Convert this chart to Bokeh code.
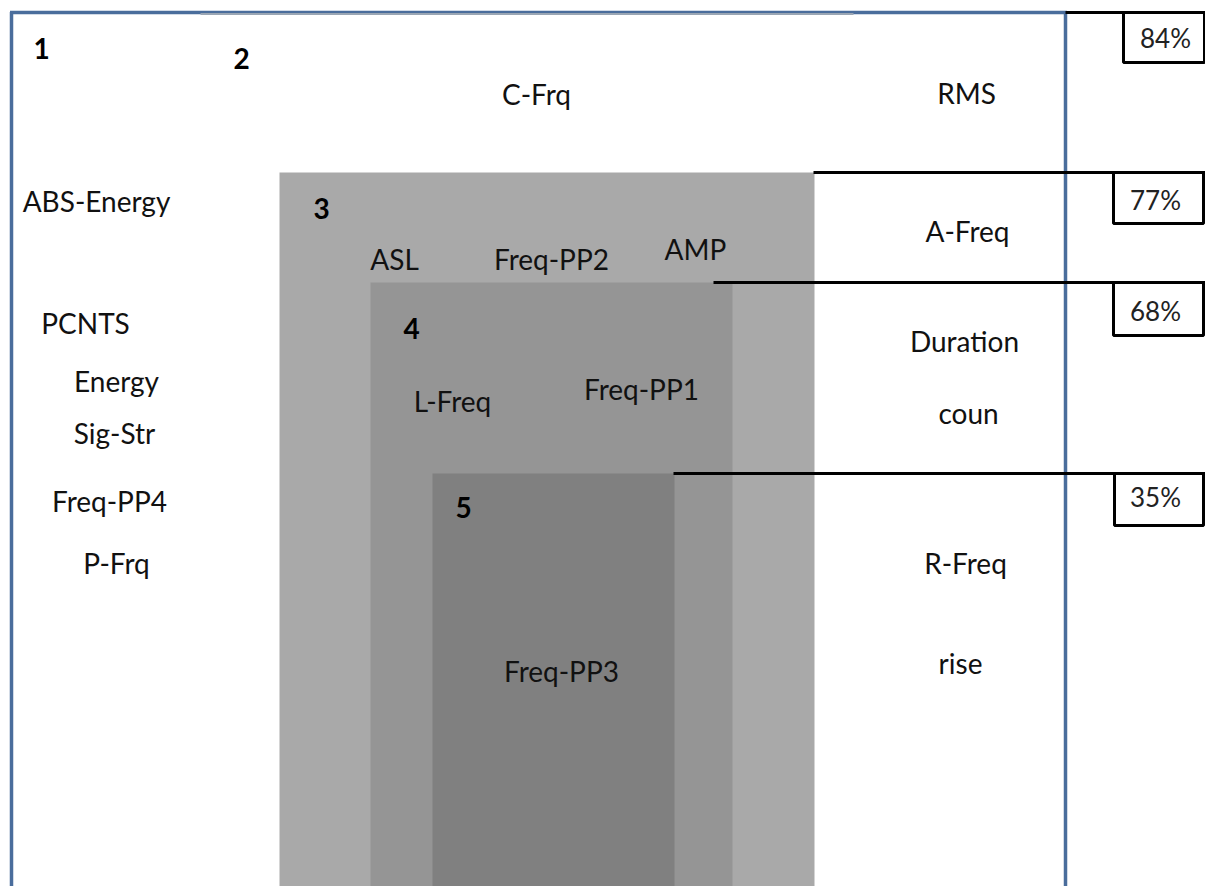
from bokeh.plotting import figure
from bokeh.models import Range1d
from bokeh.core.properties import value
from bokeh.embed import file_html
from bokeh.resources import INLINE

# ---- data ----
levels = ["1", "2", "3", "4", "5"]
percentages = [84, 77, 68, 35]
level1_features = ["ABS-Energy", "PCNTS", "Energy", "Sig-Str", "Freq-PP4", "P-Frq"]
level2_features = ["C-Frq", "RMS"]
level3_features = ["ASL", "Freq-PP2", "AMP", "A-Freq"]
level4_features = ["L-Freq", "Freq-PP1", "Duration", "coun"]
level5_features = ["Freq-PP3", "R-Freq", "rise"]

# ---- layout (pixel coordinates of the diagram) ----
W, H = 1205, 886
FONT = "Lato"

# nested shaded regions for levels 3,4,5
rect_left = [279, 370, 432]
rect_right = [814, 732, 674]
rect_top = [172, 282, 473]
rect_bottom = [886, 886, 886]
rect_color = ["#a9a9a9", "#959595", "#808080"]

# threshold lines (level boundaries) for 84/77/68/35
sep_x0 = [1065, 813, 713, 673]
sep_y = [12, 172, 282, 473]
box_left = [1123, 1113, 1113, 1114]
box_right = [1204, 1203, 1203, 1203]
box_bottom = [62, 223, 335, 525]
pct_x = [1165, 1155, 1155, 1155]
pct_y = [37, 199, 310, 496]

level_x = [33, 233, 313, 403, 455]
level_y = [48, 58, 208, 328, 507]

l1_x = [96, 85, 116, 114, 109, 116]
l1_y = [200, 322, 380, 432, 500, 562]
l2_x = [536, 966]
l2_y = [93, 92]
l3_x = [394, 551, 695, 967]
l3_y = [258, 258, 248, 230]
l4_x = [452, 641, 964, 968]
l4_y = [400, 388, 340, 412]
l5_x = [561, 965, 960]
l5_y = [670, 562, 662]

p = figure(width=W, height=H, x_range=Range1d(0, W), y_range=Range1d(H, 0),
           output_backend="svg", toolbar_location=None, min_border=0)
p.axis.visible = False
p.grid.visible = False
p.outline_line_color = None
p.background_fill_color = "white"

# shaded rectangles
p.quad(left=rect_left, right=rect_right, top=rect_top, bottom=rect_bottom,
       fill_color=rect_color, line_color=None)

# blue frame
blue = "#4a6d9c"
p.segment(x0=[11, 9.5, 1065], y0=[11.5, 12, 11.5], x1=[11, 1066.5, 1065], y1=[886, 12, 886],
          line_color=blue, line_width=3.5)
p.segment(x0=[200], y0=[13.5], x1=[853], y1=[13.5], line_color="#9aa6b4", line_width=2)

# black separator lines
p.segment(x0=sep_x0, y0=sep_y, x1=[1205] * 4, y1=sep_y, line_color="black", line_width=3)

# percentage boxes
p.quad(left=box_left, right=box_right, top=sep_y, bottom=box_bottom,
       fill_color="white", line_color="black", line_width=3)
p.text(x=pct_x, y=pct_y, text=[f"{v}%" for v in percentages],
       text_font=value(FONT), text_font_size="26px", text_align="center",
       text_baseline="middle", text_color="#222222")

# level numbers
p.text(x=level_x, y=level_y, text=levels, text_font=value(FONT), text_font_size="28px",
       text_font_style="bold", text_align="left", text_baseline="middle", text_color="black")

# feature labels
xs = l1_x + l2_x + l3_x + l4_x + l5_x
ys = l1_y + l2_y + l3_y + l4_y + l5_y
names = level1_features + level2_features + level3_features + level4_features + level5_features
p.text(x=xs, y=ys, text=names, text_font=value(FONT), text_font_size="28px",
       text_align="center", text_baseline="middle", text_color="#111111")

open("out.html", "w").write(file_html(p, INLINE))
